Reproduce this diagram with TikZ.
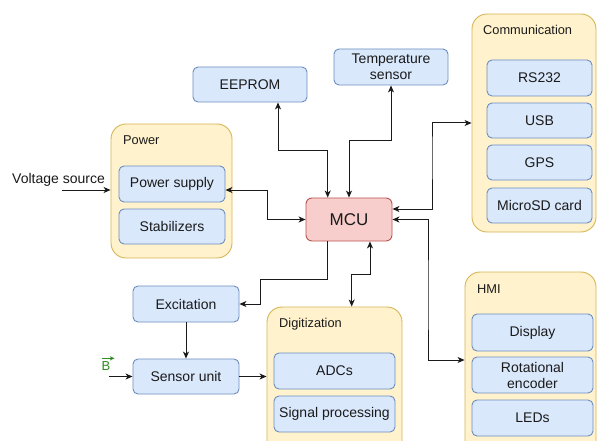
\documentclass[tikz,border=0pt]{standalone}
\usepackage{fontspec}
\setmainfont{Liberation Sans}
\usetikzlibrary{arrows.meta}
\definecolor{blueFill}{HTML}{DAE8FC}
\definecolor{blueLine}{HTML}{6C8EBF}
\definecolor{groupFill}{HTML}{FFF2CC}
\definecolor{groupLine}{HTML}{D6B656}
\definecolor{mcuFill}{HTML}{F8CECC}
\definecolor{mcuLine}{HTML}{B85450}
\definecolor{txt}{HTML}{1A1A1A}
\definecolor{fieldGreen}{HTML}{2E8B22}
\tikzset{
  unit/.style={draw=blueLine, fill=blueFill, rounded corners=5pt, line width=0.9pt,
    inner sep=0pt, align=center, text=txt, font=\fontsize{14}{15}\selectfont},
  group/.style={draw=groupLine, fill=groupFill, rounded corners=15pt, line width=0.9pt, inner sep=0pt},
  grouplabel/.style={anchor=west, inner sep=0pt, text=txt, font=\fontsize{12.8}{14}\selectfont},
  link/.style={draw=txt, line width=1pt, -{Stealth[length=7pt,width=6pt,inset=2pt]}},
  duplex/.style={draw=txt, line width=1pt, {Stealth[length=7pt,width=6pt,inset=2pt]}-{Stealth[length=7pt,width=6pt,inset=2pt]}},
}
\begin{document}
\begin{tikzpicture}[x=1pt, y=-1pt]
\useasboundingbox (0,0) rectangle (597,441);
\clip (0,0) rectangle (597,441);
\fill[white] (0,0) rectangle (597,441);

% group containers
\node[group, minimum width=121pt, minimum height=134pt] (powerC) at (171.5,191) {};
\node[group, minimum width=124pt, minimum height=218pt] (commC) at (534,123) {};
\node[group, minimum width=131pt, minimum height=190pt] (hmiC) at (530.5,367) {};
\node[group, minimum width=135pt, minimum height=155pt] (digC) at (334.5,384.5) {};

\node[grouplabel] (powerL) at (123,140) {Power};
\node[grouplabel] (commL) at (483,30) {Communication};
\node[grouplabel] (hmiL) at (477,289) {HMI};
\node[grouplabel] (digL) at (279,324) {Digitization};

% power group
\node[unit, minimum width=106pt, minimum height=36pt] (psup) at (172,184) {Power supply};
\node[unit, minimum width=106pt, minimum height=35pt] (stab) at (172,226.5) {Stabilizers};

% communication group
\node[unit, minimum width=105pt, minimum height=36pt] (rs) at (539.5,78) {RS232};
\node[unit, minimum width=105pt, minimum height=35pt] (usb) at (539.5,120.5) {USB};
\node[unit, minimum width=105pt, minimum height=35pt] (gps) at (539.5,162.5) {GPS};
\node[unit, minimum width=105pt, minimum height=35pt] (sd) at (539.5,205.5) {MicroSD card};

% HMI group
\node[unit, minimum width=121pt, minimum height=37pt] (disp) at (532.5,332.5) {Display};
\node[unit, minimum width=121pt, minimum height=36pt, font=\fontsize{14}{16}\selectfont] (rot) at (532.5,375) {Rotational\\encoder};
\node[unit, minimum width=121pt, minimum height=36pt] (leds) at (532.5,418) {LEDs};

% digitization group
\node[unit, minimum width=121pt, minimum height=36pt] (adc) at (334.5,371) {ADCs};
\node[unit, minimum width=121pt, minimum height=36pt] (sigp) at (334.5,414) {Signal processing};

% stand-alone blocks
\node[draw=mcuLine, fill=mcuFill, rounded corners=6pt, line width=0.9pt, inner sep=0pt,
  minimum width=86pt, minimum height=43pt, text=txt, font=\fontsize{17}{18}\selectfont] (mcu) at (349,219.5) {MCU};
\node[unit, minimum width=114pt, minimum height=35pt] (eeprom) at (250,84.5) {EEPROM};
\node[unit, minimum width=114pt, minimum height=36pt, font=\fontsize{14}{16}\selectfont] (temp) at (391,67) {Temperature\\sensor};
\node[unit, minimum width=106pt, minimum height=36pt] (excit) at (186,304) {Excitation};
\node[unit, minimum width=106pt, minimum height=35pt] (sensor) at (186,376.5) {Sensor unit};

% inputs
\node[anchor=west, inner sep=0pt, text=txt, font=\fontsize{14}{15}\selectfont] (vsL) at (12,180) {Voltage source};
% field vector B: letter with its small vector arrow above
\node[inner sep=0pt, text=fieldGreen, font=\fontsize{13}{14}\selectfont] (bL) at (106,366.5) {B};
\draw[fieldGreen, line width=0.9pt, -{Stealth[length=4.5pt,width=4pt,inset=1pt]}]
  ([xshift=-4.5pt,yshift=3.5pt]bL.north) -- ([xshift=8.5pt,yshift=3.5pt]bL.north);
\coordinate (vs) at (62,190);
\coordinate (bsrc) at (109,376.5);

% connectors
\draw[link] (vs) -- (vs -| powerC.west);
\draw[link] (bsrc) -- (sensor.west);
\draw[duplex] (psup.east |- vs) -| ([xshift=-38pt]mcu.west) -- (mcu.west);
\draw[duplex] ([xshift=28pt]eeprom.south) |- (327.7,151) -- ([xshift=-21.3pt]mcu.north);
\draw[duplex] (temp.south) |- (349,141) -- (mcu.north);
\draw[duplex] ([yshift=10.5pt]mcu.east) -| (432,150) |- (commC.west);
\draw[duplex] (mcu.east) -| (428,300) |- (hmiC.west |- 0,360);
\draw[link] ([xshift=-21.3pt]mcu.south) |- (260.7,279) |- (excit.east);
\draw[duplex] ([xshift=21pt]mcu.south) |- (351.7,274) -- (351.7,274 |- digC.north);
\draw[link] (excit.south) -- (sensor.north);
\draw[link] (sensor.east) -- (sensor.east -| digC.west);
\end{tikzpicture}
\end{document}
